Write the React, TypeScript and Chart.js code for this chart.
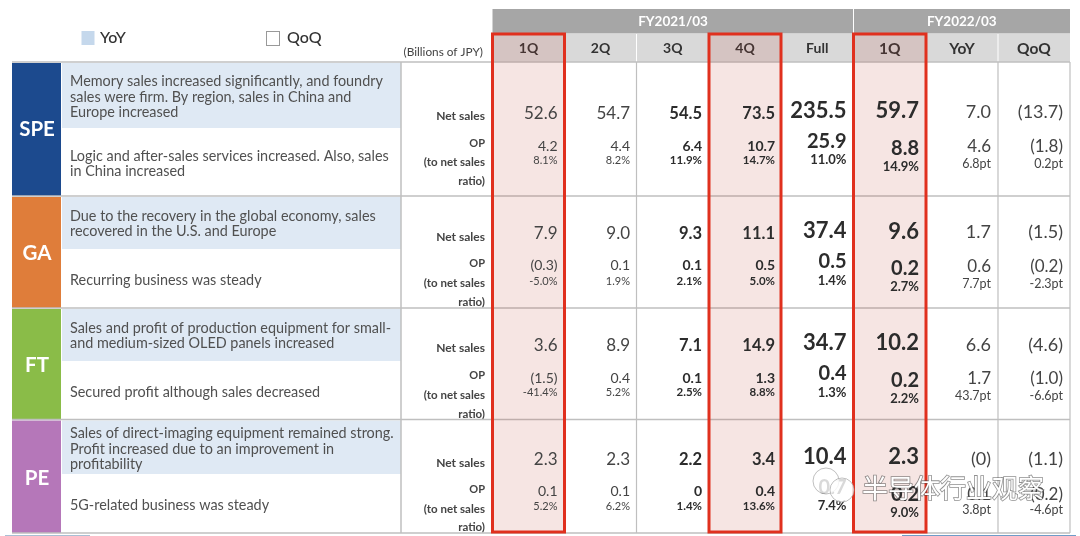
import React, { useEffect, useRef } from "react";
import { Chart, registerables } from "chart.js";
Chart.register(...registerables);

const segments = ["SPE", "GA", "FT", "PE"];
const columnsFY21 = ["1Q", "2Q", "3Q", "4Q", "Full"];
const columnsFY22 = ["1Q", "YoY", "QoQ"];
const fiscalYears = ["FY2021/03", "FY2022/03"];
const legendItems = ["YoY", "QoQ"];
const unitLabel = "(Billions of JPY)";
const rowLabels = ["Net sales", "OP", "(to net sales", "ratio)"];

const yoyComments = [
  ["Memory sales increased significantly, and foundry", "sales were firm. By region, sales in China and", "Europe increased"],
  ["Due to the recovery in the global economy, sales", "recovered in the U.S. and Europe"],
  ["Sales and profit of production equipment for small-", "and medium-sized OLED panels increased"],
  ["Sales of direct-imaging equipment remained strong.", "Profit increased due to an improvement in", "profitability"],
];
const qoqComments = [
  ["Logic and after-sales services increased. Also, sales", "in China increased"],
  ["Recurring business was steady"],
  ["Secured profit although sales decreased"],
  ["5G-related business was steady"],
];

const speNet = ["52.6", "54.7", "54.5", "73.5", "235.5", "59.7", "7.0", "(13.7)"];
const speOp = ["4.2", "4.4", "6.4", "10.7", "25.9", "8.8", "4.6", "(1.8)"];
const speRatio = ["8.1%", "8.2%", "11.9%", "14.7%", "11.0%", "14.9%", "6.8pt", "0.2pt"];
const gaNet = ["7.9", "9.0", "9.3", "11.1", "37.4", "9.6", "1.7", "(1.5)"];
const gaOp = ["(0.3)", "0.1", "0.1", "0.5", "0.5", "0.2", "0.6", "(0.2)"];
const gaRatio = ["-5.0%", "1.9%", "2.1%", "5.0%", "1.4%", "2.7%", "7.7pt", "-2.3pt"];
const ftNet = ["3.6", "8.9", "7.1", "14.9", "34.7", "10.2", "6.6", "(4.6)"];
const ftOp = ["(1.5)", "0.4", "0.1", "1.3", "0.4", "0.2", "1.7", "(1.0)"];
const ftRatio = ["-41.4%", "5.2%", "2.5%", "8.8%", "1.3%", "2.2%", "43.7pt", "-6.6pt"];
const peNet = ["2.3", "2.3", "2.2", "3.4", "10.4", "2.3", "(0)", "(1.1)"];
const peOp = ["0.1", "0.1", "0", "0.4", "0.7", "0.2", "0.1", "(0.2)"];
const peRatio = ["5.2%", "6.2%", "1.4%", "13.6%", "7.4%", "9.0%", "3.8pt", "-4.6pt"];

const netBySegment = [speNet, gaNet, ftNet, peNet];
const opBySegment = [speOp, gaOp, ftOp, peOp];
const ratioBySegment = [speRatio, gaRatio, ftRatio, peRatio];

// ---- layout and style (separate from the data) ----
const FONT = "Lato, 'Noto Sans', sans-serif";
const segColors = ["#1c4a8e", "#df7d3a", "#8abc48", "#b577b9"];
const colEdges = [492.5, 564.5, 636.5, 709, 781, 853.5, 926, 998, 1070];
const cellRight = [557.5, 630, 702, 775, 846.5, 919, 991, 1063];
const rowEdges = [62, 196, 308, 419.5, 533];
const bandBottom = [128, 249, 361, 474];
const yoyTextY = [[81, 97, 112.5], [216, 231.5], [328, 343.5], [433.5, 449, 464.5]];
const qoqTextY = [[156, 171.5], [280.5], [392.5], [505.5]];
const labelY = [[116, 143, 162, 181], [237, 263, 283, 302], [348, 375, 395, 414], [463, 489, 509, 527]];
const segLabelY = [129, 253, 365, 478];
// y anchor of net/op/ratio for the column groups: plain quarters, Full, FY22 1Q, YoY+QoQ
const yNormal = [[113.5, 146, 160], [233.5, 265, 281], [346, 378, 392.5], [459.5, 491, 506]];
const yFull = [[111, 142, 160], [231, 262, 281], [343, 374, 392.5], [457, 488, 506]];
const yNew = [[111, 149, 167], [231.5, 269, 287], [343, 381, 399], [457, 495, 513]];
const yDelta = [[112, 147, 164], [232, 267, 284], [345, 379, 396], [459, 495, 510]];
const colYs = [yNormal, yNormal, yNormal, yNormal, yFull, yNew, yDelta, yDelta];
const colWeight = ["400", "400", "700", "700", "700", "700", "400", "400"];
const netSize = [17, 17, 16.5, 16.5, 22, 22, 18, 18];
const opSize = [14, 14, 14, 14, 20, 20, 17, 17];
const ratioSize = [11, 11, 11.5, 11.5, 13, 13, 12.5, 12.5];
const colColor = ["#444", "#444", "#2c2c2c", "#2c2c2c", "#2c2c2c", "#2c2c2c", "#444", "#444"];
const highlighted = [0, 3, 5];

type Cell = { x: number; y: number; text: string; font: string; color: string };

function cellsFor(values: string[][], metric: number, sizes: number[]): Cell[] {
  const out: Cell[] = [];
  values.forEach((row, s) =>
    row.forEach((text, c) =>
      out.push({
        x: cellRight[c],
        y: colYs[c][s][metric],
        text,
        font: `${colWeight[c]} ${sizes[c]}px ${FONT}`,
        color: colColor[c],
      })
    )
  );
  return out;
}

const tablePlugin = {
  id: "table",
  beforeDatasetsDraw(chart: any) {
    const { ctx, scales } = chart;
    const X = (v: number) => scales.x.getPixelForValue(v);
    const Y = (v: number) => scales.y.getPixelForValue(v);
    const rect = (x0: number, y0: number, x1: number, y1: number, fill: string) => {
      ctx.fillStyle = fill;
      ctx.fillRect(X(x0), Y(y0), X(x1) - X(x0), Y(y1) - Y(y0));
    };
    const line = (x0: number, y0: number, x1: number, y1: number, color: string, w: number) => {
      ctx.strokeStyle = color;
      ctx.lineWidth = w;
      ctx.beginPath();
      ctx.moveTo(X(x0), Y(y0));
      ctx.lineTo(X(x1), Y(y1));
      ctx.stroke();
    };
    const text = (s: string, x: number, y: number, font: string, color: string, align = "left") => {
      ctx.font = font;
      ctx.fillStyle = color;
      ctx.textAlign = align;
      ctx.textBaseline = "middle";
      ctx.fillText(s, X(x), Y(y));
    };
    ctx.save();
    rect(0, 0, 1080, 536, "#ffffff");

    // legend
    rect(81.5, 31, 94.5, 45, "#c5d8ec");
    text(legendItems[0], 100, 37.5, `500 16px ${FONT}`, "#333");
    ctx.strokeStyle = "#999";
    ctx.lineWidth = 1;
    ctx.strokeRect(X(266.5), Y(31.5), 13, 14);
    text(legendItems[1], 287, 37.5, `500 16px ${FONT}`, "#333");
    text(unitLabel, 483, 52, `400 11.8px ${FONT}`, "#444", "right");

    // headers
    rect(colEdges[0], 9, colEdges[8], 33.5, "#a6a6a6");
    rect(colEdges[0], 34, colEdges[8], 62, "#d9d9d9");
    line(colEdges[5], 9, colEdges[5], 34, "#fff", 1);
    for (let c = 1; c < 8; c++) line(colEdges[c], 34, colEdges[c], 62, "#fff", 1);
    text(fiscalYears[0], (colEdges[0] + colEdges[5]) / 2, 21.5, `700 13.5px ${FONT}`, "#fff", "center");
    text(fiscalYears[1], (colEdges[5] + colEdges[8]) / 2, 21.5, `700 13.5px ${FONT}`, "#fff", "center");
    [...columnsFY21, ...columnsFY22].forEach((h, c) =>
      text(h, (colEdges[c] + colEdges[c + 1]) / 2, 48.5, `700 ${c >= 5 ? 15.5 : 14}px ${FONT}`, "#333", "center")
    );

    // segment rows
    segments.forEach((seg, s) => {
      const top = rowEdges[s] + 1;
      const bottom = rowEdges[s + 1];
      rect(12, top, 61, bottom, segColors[s]);
      rect(62, top, 401, bandBottom[s], "#dfe9f4");
      text(seg, 37, segLabelY[s], `700 20.5px ${FONT}`, "#fff", "center");
      yoyComments[s].forEach((l, i) => text(l, 70, yoyTextY[s][i], `400 14.4px ${FONT}`, "#505050"));
      qoqComments[s].forEach((l, i) => text(l, 70, qoqTextY[s][i], `400 14.4px ${FONT}`, "#505050"));
      text(rowLabels[0], 485, labelY[s][0], `700 12px ${FONT}`, "#444", "right");
      text(rowLabels[1], 485, labelY[s][1], `700 11px ${FONT}`, "#444", "right");
      text(rowLabels[2], 485, labelY[s][2], `700 11.5px ${FONT}`, "#444", "right");
      text(rowLabels[3], 485, labelY[s][3], `700 11.5px ${FONT}`, "#444", "right");
    });

    // grid
    rowEdges.forEach((y) => line(12, y, 1070, y, "#bfbfbf", 1.5));
    line(401, 62, 401, 533, "#bfbfbf", 1.5);
    colEdges.forEach((x) => line(x, 62, x, 533, "#bfbfbf", 1.2));
    // remnants of the next slide along the bottom edge
    rect(902, 535, 1076, 536, "#6f9cc8");
    rect(5, 535, 90, 536, "#a9bfd4");
    ctx.restore();
  },
  afterDatasetsDraw(chart: any) {
    const { ctx, scales } = chart;
    const X = (v: number) => scales.x.getPixelForValue(v);
    const Y = (v: number) => scales.y.getPixelForValue(v);
    ctx.save();
    highlighted.forEach((c) => {
      const x0 = X(colEdges[c]);
      const w = X(colEdges[c + 1]) - x0;
      ctx.fillStyle = "rgba(190,70,60,0.14)";
      ctx.fillRect(x0, Y(34), w, Y(533) - Y(34));
    });
    // the cell values, placed where the library put each point
    chart.data.datasets.forEach((ds: any, i: number) => {
      chart.getDatasetMeta(i).data.forEach((el: any, j: number) => {
        const cell = ds.data[j] as Cell;
        ctx.font = cell.font;
        ctx.fillStyle = cell.color;
        ctx.textAlign = "right";
        ctx.textBaseline = "middle";
        ctx.fillText(cell.text, el.x, el.y);
      });
    });
    // red frames
    highlighted.forEach((c) => {
      ctx.strokeStyle = "#e0301e";
      ctx.lineWidth = 3;
      ctx.strokeRect(X(colEdges[c]), Y(34), X(colEdges[c + 1]) - X(colEdges[c]), Y(532) - Y(34));
    });
    // watermark: two speech bubbles and the account name
    ctx.fillStyle = "rgba(255,255,255,0.82)";
    ctx.strokeStyle = "rgba(150,150,150,0.6)";
    ctx.lineWidth = 1;
    ctx.beginPath();
    ctx.arc(X(826), Y(481), 13, 0, Math.PI * 2);
    ctx.fill();
    ctx.stroke();
    ctx.beginPath();
    ctx.arc(X(842), Y(490), 12, 0, Math.PI * 2);
    ctx.fill();
    ctx.stroke();
    ctx.font = `400 26px 'Noto Sans CJK SC'`;
    ctx.textAlign = "left";
    ctx.textBaseline = "middle";
    ctx.strokeStyle = "rgba(70,70,70,0.6)";
    ctx.lineWidth = 1.6;
    ctx.strokeText("半导体行业观察", X(862), Y(488));
    ctx.fillStyle = "#ffffff";
    ctx.fillText("半导体行业观察", X(862), Y(488));
    ctx.restore();
  },
};

export default function App() {
  const ref = useRef<HTMLCanvasElement>(null);
  useEffect(() => {
    document.body.style.margin = "0";
    const chart = new Chart(ref.current as HTMLCanvasElement, {
      type: "scatter",
      data: {
        datasets: [
          { label: "Net sales", data: cellsFor(netBySegment, 0, netSize), pointRadius: 0 },
          { label: "OP", data: cellsFor(opBySegment, 1, opSize), pointRadius: 0 },
          { label: "Ratio", data: cellsFor(ratioBySegment, 2, ratioSize), pointRadius: 0 },
        ] as any,
      },
      options: {
        animation: false,
        responsive: false,
        devicePixelRatio: 1,
        layout: { padding: 0 },
        plugins: { legend: { display: false }, tooltip: { enabled: false }, title: { display: false } },
        scales: {
          x: { type: "linear", min: 0, max: 1080, display: false },
          y: { type: "linear", min: 0, max: 536, reverse: true, display: false },
        },
      },
      plugins: [tablePlugin],
    });
    return () => chart.destroy();
  }, []);
  return (
    <div style={{ position: "absolute", left: 0, top: 0, width: 1080, height: 536 }}>
      <canvas ref={ref} width={1080} height={536} style={{ display: "block", filter: "blur(0.4px)" }} />
    </div>
  );
}
